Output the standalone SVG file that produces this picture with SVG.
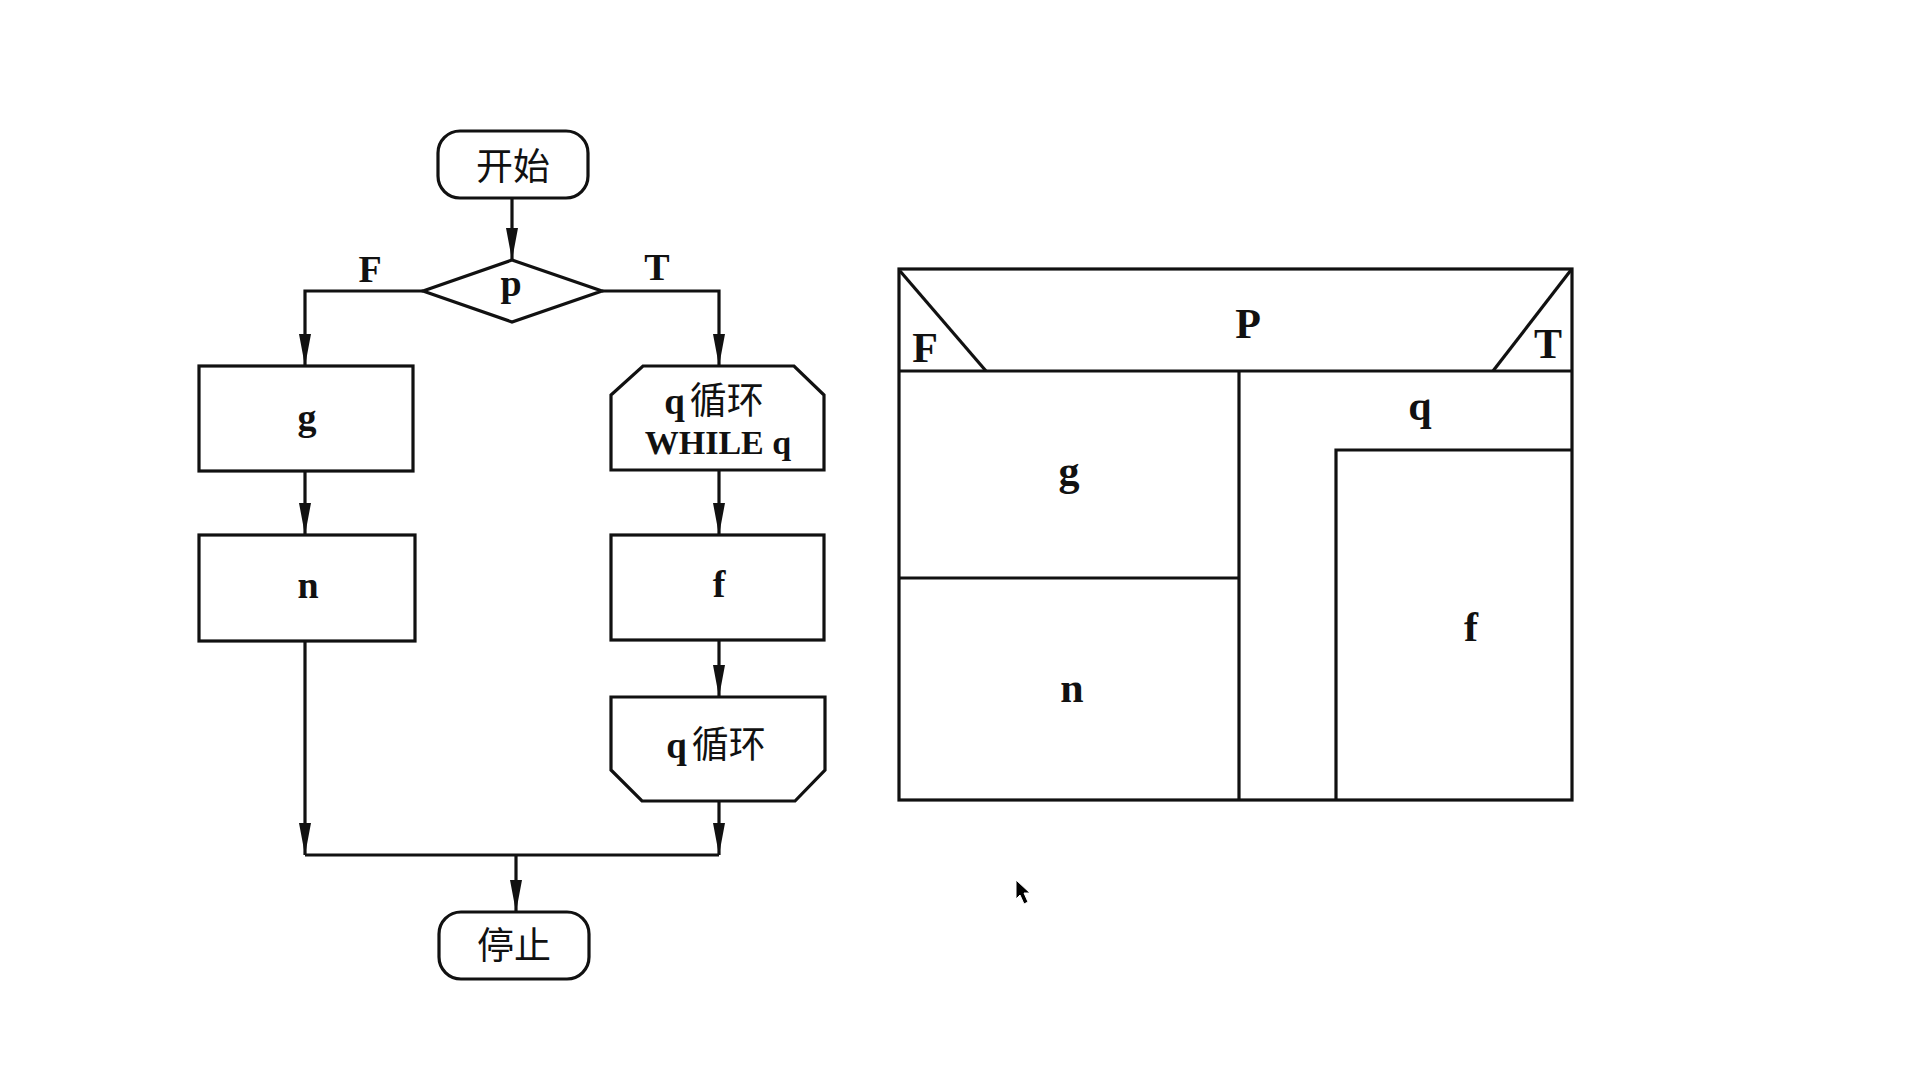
<svg xmlns="http://www.w3.org/2000/svg" width="1929" height="1080" viewBox="0 0 1929 1080">
<defs>
<style>
.shape{fill:#fff;stroke:#111;stroke-width:3.2;stroke-linejoin:miter}
.line{fill:none;stroke:#111;stroke-width:3.2}
.lat{font-family:"Liberation Serif","Times New Roman",serif;font-weight:bold;fill:#111;text-anchor:middle}
.cjk{font-family:"Liberation Serif","Noto Sans CJK SC",sans-serif;fill:#111;text-anchor:middle}
.b{font-weight:bold}
</style>
<marker id="ah" markerUnits="userSpaceOnUse" viewBox="0 0 32 12" refX="32" refY="6" markerWidth="32" markerHeight="12" orient="auto">
<path d="M0,0 L32,6 L0,12 Z" fill="#111"/>
</marker>
</defs>
<rect width="1929" height="1080" fill="#fff"/>

<g id="connectors">
<path class="line" d="M512,198 L512,260" marker-end="url(#ah)"/>
<path class="line" d="M423,291 L305,291 L305,366" marker-end="url(#ah)"/>
<path class="line" d="M602,291 L719,291 L719,366" marker-end="url(#ah)"/>
<path class="line" d="M305,471 L305,535" marker-end="url(#ah)"/>
<path class="line" d="M719,470 L719,535" marker-end="url(#ah)"/>
<path class="line" d="M719,640 L719,697" marker-end="url(#ah)"/>
<path class="line" d="M305,641 L305,855" marker-end="url(#ah)"/>
<path class="line" d="M719,801 L719,855" marker-end="url(#ah)"/>
<path class="line" d="M305,855 L719,855"/>
<path class="line" d="M516,855 L516,912" marker-end="url(#ah)"/>
</g>
<text class="lat" x="370" y="282" font-size="38">F</text>
<text class="lat" x="657" y="280" font-size="38">T</text>

<g id="start">
<rect class="shape" x="438" y="131" width="150" height="67" rx="22" ry="22"/>
<text class="cjk" x="513" y="180" font-size="37">开始</text>
</g>
<g id="decision-p">
<polygon class="shape" points="512,260 602,291 512,322 423,291"/>
<text class="lat" x="511" y="296" font-size="38">p</text>
</g>
<g id="box-g">
<rect class="shape" x="199" y="366" width="214" height="105"/>
<text class="lat" x="307" y="430" font-size="38">g</text>
</g>
<g id="box-n">
<rect class="shape" x="199" y="535" width="216" height="106"/>
<text class="lat" x="308" y="598" font-size="38">n</text>
</g>
<g id="loop-start">
<polygon class="shape" points="643,366 794,366 824,395 824,470 611,470 611,395"/>
<text class="cjk" x="714" y="414" font-size="37"><tspan class="b">q</tspan><tspan dx="5">循环</tspan></text>
<text class="lat" x="718" y="454" font-size="34">WHILE q</text>
</g>
<g id="box-f">
<rect class="shape" x="611" y="535" width="213" height="105"/>
<text class="lat" x="719" y="597" font-size="38">f</text>
</g>
<g id="loop-end">
<polygon class="shape" points="611,697 825,697 825,770 795,801 642,801 611,770"/>
<text class="cjk" x="716" y="758" font-size="37"><tspan class="b">q</tspan><tspan dx="5">循环</tspan></text>
</g>
<g id="stop">
<rect class="shape" x="439" y="912" width="150" height="67" rx="22" ry="22"/>
<text class="cjk" x="514" y="959" font-size="37">停止</text>
</g>

<g id="ns-diagram">
<rect class="shape" x="899" y="269" width="673" height="531"/>
<path class="line" d="M899,371 L1572,371"/>
<path class="line" d="M900,271 L986,371"/>
<path class="line" d="M1571,270 L1493,371"/>
<path class="line" d="M1239,371 L1239,800"/>
<path class="line" d="M899,578 L1239,578"/>
<path class="line" d="M1336,800 L1336,450 L1572,450"/>
<text class="lat" x="1248" y="338" font-size="42">P</text>
<text class="lat" x="925" y="362" font-size="42">F</text>
<text class="lat" x="1548" y="358" font-size="42">T</text>
<text class="lat" x="1420" y="420" font-size="42">q</text>
<text class="lat" x="1069" y="485" font-size="42">g</text>
<text class="lat" x="1072" y="702" font-size="42">n</text>
<text class="lat" x="1471" y="641" font-size="42">f</text>
</g>

<polygon points="1016,880 1016,899 1020,895 1024,904 1028,902 1024,893 1030,893" fill="#000" stroke="#fff" stroke-width="1"/>
</svg>
